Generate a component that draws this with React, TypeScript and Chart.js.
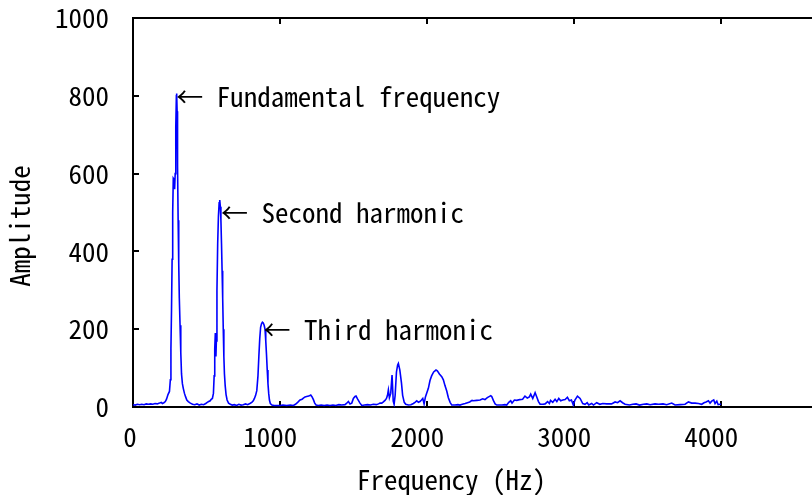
import React, { useEffect, useRef } from "react";
import { Chart, registerables } from "chart.js";

Chart.register(...registerables);

// Spectrum samples (Hz, amplitude)
const frequencyHz: number[] = [
  0, 15, 30, 45, 60, 75, 90, 105, 120, 135, 150, 165, 180, 192, 200, 210, 220, 228,
  238, 248, 254, 258, 262, 266, 270, 274, 279, 283, 287, 291, 295, 297, 300, 303, 307, 311, 315, 320, 325, 330, 336, 342, 350, 358, 366, 376, 390, 405,
  420, 435, 450, 465, 480, 495, 505, 515, 525, 532,
  540, 547, 552, 556, 560, 564, 567, 571, 576, 581, 586, 590, 594, 598, 602, 606, 610, 614, 618, 622, 627, 633, 640, 650, 662,
  675, 690, 705, 720, 735, 750, 765, 780, 795, 808, 818, 826,
  834, 842, 850, 856, 862, 868, 874, 880, 886, 892, 898, 903, 908, 913, 918, 923, 928, 934, 945, 960,
  980, 1000, 1020, 1045, 1070, 1091, 1105, 1120, 1136, 1150, 1159, 1170, 1181, 1195, 1209, 1218, 1227, 1236, 1245,
  1260, 1280, 1300, 1320, 1340, 1360, 1380, 1400, 1420, 1442, 1452, 1465, 1476, 1488, 1499, 1510, 1517, 1528, 1544, 1556,
  1575, 1595, 1615, 1635, 1655, 1670, 1680, 1692, 1703, 1714, 1724, 1731, 1737, 1744, 1753, 1762, 1770, 1776, 1783, 1792, 1800, 1805, 1815, 1826, 1834, 1845, 1855,
  1873, 1890, 1907, 1918, 1930, 1941, 1952, 1962, 1971, 1980, 1989, 1998, 2009, 2020, 2031, 2045, 2061, 2070, 2084, 2100, 2111, 2122, 2134, 2145, 2157, 2168,
  2190, 2210, 2224, 2240, 2259, 2275, 2290, 2306, 2315, 2338, 2361, 2378, 2394, 2410, 2428, 2433, 2440, 2451, 2463, 2474,
  2490, 2510, 2530, 2542, 2556, 2569, 2578, 2594, 2610, 2630, 2650, 2666, 2682, 2696, 2705, 2719, 2735, 2745, 2758, 2769,
  2790, 2803, 2820, 2832, 2840, 2855, 2871, 2883, 2896, 2909, 2923, 2939, 2955, 2968, 2982, 2995, 3006, 3023, 3041, 3059,
  3075, 3089, 3100, 3120, 3132, 3154, 3175, 3195, 3222, 3255, 3279, 3296, 3313, 3330, 3347, 3377, 3400, 3422, 3445, 3472,
  3495, 3517, 3551, 3575, 3605, 3630, 3664, 3687, 3721, 3755, 3778, 3800, 3823, 3846, 3868, 3884, 3898, 3914, 3925, 3936,
  3950, 3959, 3971, 3980, 3993, 4000,
];

const amplitude: number[] = [
  6, 5, 7, 6, 7, 6, 8, 7, 8, 7, 9, 8, 10, 12, 9, 11, 14, 20,
  32, 40, 70, 150, 250, 380, 500, 588, 585, 560, 600, 720, 800, 806, 760, 620, 480, 370, 280, 210, 140, 85, 60, 48, 35, 26, 18, 14, 10, 7,
  6, 8, 5, 7, 6, 9, 12, 14, 16, 20,
  22, 35, 80, 150, 190, 130, 170, 300, 420, 490, 525, 532, 515, 480, 420, 350, 280, 200, 130, 85, 55, 32, 18, 10, 7,
  5, 6, 4, 7, 5, 6, 8, 6, 9, 12, 16, 22,
  30, 42, 80, 130, 175, 205, 214, 218, 216, 210, 200, 170, 135, 95, 60, 35, 18, 9, 5, 4,
  4, 4, 5, 4, 5, 4, 7, 12, 18, 20, 23, 26, 27, 28, 31, 26, 19, 10, 5,
  4, 5, 4, 5, 4, 5, 4, 6, 5, 6, 9, 14, 8, 10, 22, 27, 28, 20, 10, 4,
  5, 6, 5, 7, 6, 8, 10, 10, 13, 17, 22, 30, 44, 24, 35, 82, 15, 7, 30, 90, 108, 112, 95, 62, 30, 12, 7,
  5, 6, 9, 12, 16, 12, 14, 18, 22, 8, 26, 36, 48, 68, 80, 90, 95, 93, 85, 78, 70, 55, 41, 24, 12, 5,
  5, 6, 5, 7, 9, 11, 13, 17, 16, 17, 18, 21, 19, 24, 28, 29, 27, 17, 8, 5,
  5, 5, 6, 5, 12, 16, 10, 18, 17, 19, 20, 28, 23, 26, 33, 22, 37, 27, 14, 7,
  7, 8, 14, 9, 17, 12, 20, 14, 22, 16, 18, 19, 25, 16, 18, 5, 18, 28, 22, 9,
  7, 11, 5, 9, 5, 11, 7, 9, 8, 8, 13, 11, 16, 11, 7, 5, 7, 8, 5, 7,
  8, 6, 8, 7, 8, 6, 10, 5, 6, 7, 13, 10, 10, 9, 7, 11, 13, 16, 10, 15,
  18, 9, 15, 6, 7, 7,
];

const xTickValues: number[] = [0, 1000, 2000, 3000, 4000];
const yTickValues: number[] = [0, 200, 400, 600, 800, 1000];

const annotationTexts: string[] = ["← Fundamental frequency", "← Second harmonic", "← Third harmonic"];
const annotationFreq: number[] = [294, 599, 888];
const annotationAmp: number[] = [797, 499, 199];

const xTitle = "Frequency (Hz)";
const yTitle = "Amplitude";

const FONT_FAMILY = '"Noto Sans Mono CJK JP", "Noto Sans CJK JP", "DejaVu Sans Mono", monospace';

export default function App() {
  const canvasRef = useRef<HTMLCanvasElement | null>(null);

  useEffect(() => {
    const canvas = canvasRef.current;
    if (!canvas) return;

    const annotationPlugin = {
      id: "harmonicLabels",
      afterDatasetsDraw(chart: any) {
        const ctx = chart.ctx;
        const xs = chart.scales.x;
        const ys = chart.scales.y;
        ctx.save();
        ctx.font = `27px ${FONT_FAMILY}`;
        ctx.fillStyle = "#000";
        ctx.textAlign = "left";
        ctx.textBaseline = "middle";
        annotationTexts.forEach((t, i) => {
          ctx.fillText(t, xs.getPixelForValue(annotationFreq[i]), ys.getPixelForValue(annotationAmp[i]));
        });
        ctx.restore();
      },
    };

    const setXTicks = (axis: any) => {
      axis.ticks = xTickValues.map((v) => ({ value: v }));
    };
    const setYTicks = (axis: any) => {
      axis.ticks = yTickValues.map((v) => ({ value: v }));
    };
    const zeroPad = (s: any) => {
      s.paddingTop = 0;
      s.paddingBottom = 0;
      s.paddingLeft = 0;
      s.paddingRight = 0;
    };

    const tickGrid = {
      drawOnChartArea: false,
      drawTicks: true,
      tickLength: -6,
      color: "#000",
      lineWidth: 2,
    };

    const chart = new Chart(canvas, {
      type: "line",
      data: {
        datasets: [
          {
            data: frequencyHz.map((f, i) => ({ x: f, y: amplitude[i] })),
            borderColor: "#0000ff",
            borderWidth: 1.6,
            pointRadius: 0,
            fill: false,
            tension: 0,
          },
        ],
      },
      options: {
        animation: false,
        responsive: false,
        events: [],
        layout: { padding: 0 },
        plugins: {
          legend: { display: false },
          tooltip: { enabled: false },
        },
        scales: {
          x: {
            type: "linear",
            position: "bottom",
            min: 0,
            max: 4700,
            afterBuildTicks: setXTicks,
            afterFit: (s: any) => {
              s.height = 88;
              zeroPad(s);
            },
            ticks: {
              color: "#000",
              padding: 20,
              labelOffset: -3,
              maxRotation: 0,
              minRotation: 0,
              autoSkip: false,
              callback: (v: any) => (Number(v) === 0 ? "0" : String(v) + " "),
              font: { family: FONT_FAMILY, size: 27, lineHeight: 1.2 },
            },
            grid: tickGrid,
            border: { display: true, color: "#000", width: 2 },
            title: {
              display: true,
              text: xTitle + "    ",
              color: "#000",
              padding: { top: 0, bottom: 0 },
              font: { family: FONT_FAMILY, size: 27, lineHeight: 1.1 },
            },
          },
          x2: {
            type: "linear",
            position: "top",
            min: 0,
            max: 4700,
            afterBuildTicks: setXTicks,
            afterFit: (s: any) => {
              s.height = 18;
              zeroPad(s);
            },
            ticks: { display: false },
            grid: tickGrid,
            border: { display: true, color: "#000", width: 2 },
          },
          y: {
            type: "linear",
            position: "left",
            min: 0,
            max: 1000,
            afterBuildTicks: setYTicks,
            afterFit: (s: any) => {
              s.width = 133;
              zeroPad(s);
            },
            ticks: {
              color: "#000",
              padding: 30,
              autoSkip: false,
              callback: (v: any) => String(v),
              font: { family: FONT_FAMILY, size: 27, lineHeight: 1.2 },
            },
            grid: tickGrid,
            border: { display: true, color: "#000", width: 2 },
            title: {
              display: true,
              text: yTitle + "  ",
              color: "#000",
              padding: { top: 5, bottom: 0 },
              font: { family: FONT_FAMILY, size: 27, lineHeight: 1.1 },
            },
          },
        },
      },
      plugins: [annotationPlugin],
    });

    return () => {
      chart.destroy();
    };
  }, []);

  return (
    <div
      style={{
        position: "fixed",
        left: 0,
        top: 0,
        width: 812,
        height: 495,
        overflow: "hidden",
        background: "#fff",
      }}
    >
      <canvas ref={canvasRef} width={824} height={495} style={{ display: "block" }} />
    </div>
  );
}
